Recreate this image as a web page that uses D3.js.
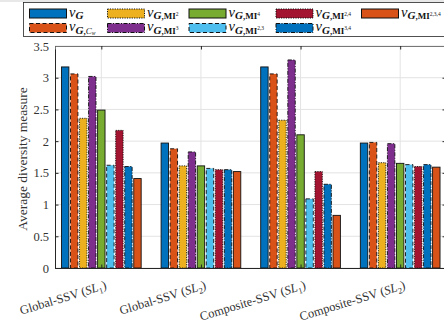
<!DOCTYPE html>
<html>
<head>
<meta charset="utf-8">
<script src="https://cdn.jsdelivr.net/npm/d3@7"></script>
<style>
  body { margin: 0; background: #fff; }
  svg text { font-family: "Liberation Serif", "DejaVu Serif", serif; }
</style>
</head>
<body>
<div id="chart"></div>
<script>
var margin = {top: 46, left: 55},
    width = 446 - 55,
    height = 268 - 46;

// data
var groups = ["Global-SSV", "Global-SSV", "Composite-SSV", "Composite-SSV"];
var groupSub = ["1", "2", "1", "2"];
var series = ["G", "Cw", "MI2", "MI3", "MI4", "MI23", "MI24", "MI34", "MI234"];
var seriesColors = ["#0072BD", "#D95319", "#EDB120", "#7E2F8E", "#77AC30", "#4DBEEE", "#A2142F", "#0072BD", "#D95319"];
var seriesDash = [null, "4,2.5", "1.2,1.2", "4,1.5,1,1.5", null, "4,2.5", "1.2,1.2", "4,1.5,1,1.5", null];
var values = [
  [3.17, 3.06, 2.36, 3.02, 2.49, 1.62, 2.17, 1.60, 1.41],
  [1.97, 1.88, 1.61, 1.83, 1.61, 1.57, 1.55, 1.55, 1.52],
  [3.17, 3.06, 2.33, 3.28, 2.10, 1.09, 1.52, 1.32, 0.83],
  [1.97, 1.98, 1.66, 1.96, 1.65, 1.63, 1.60, 1.63, 1.59]
];
var yTicks = [0, 0.5, 1, 1.5, 2, 2.5, 3, 3.5];
var yTickLabels = ["0", "0.5", "1", "1.5", "2", "2.5", "3", "3.5"];
// legend: [subscript main, subscript tail, superscript], laid out in two rows
var legendRows = [
  [["G", "", ""], ["G", ",MI", "2"], ["G", ",MI", "4"], ["G", ",MI", "2,4"], ["G", ",MI", "2,3,4"]],
  [["G", ",C", "w"], ["G", ",MI", "3"], ["G", ",MI", "2,3"], ["G", ",MI", "3,4"]]
];
var legendSeries = [[0, 2, 4, 6, 8], [1, 3, 5, 7]];

var svg = d3.select("#chart").append("svg")
    .attr("width", 444)
    .attr("height", 327);

svg.append("rect").attr("x", 0).attr("y", 0).attr("width", 444).attr("height", 2).attr("fill", "#e8e8e8");

var g = svg.append("g")
    .attr("transform", "translate(" + margin.left + "," + margin.top + ")");

var x = d3.scaleLinear().domain([0.535, 4.46]).range([0, width]);
var y = d3.scaleLinear().domain([0, 3.5]).range([height, 0]);
var step = x(2) - x(1);
var x1 = d3.scaleBand().domain(series).range([-0.4 * step, 0.4 * step]).paddingInner(0.18);

// grid
g.append("g").selectAll("line").data(yTicks).enter().append("line")
  .attr("x1", 0).attr("x2", width)
  .attr("y1", function(d) { return y(d); }).attr("y2", function(d) { return y(d); })
  .attr("stroke", "#e3e3e3").attr("stroke-width", 1);
g.append("g").selectAll("line").data([1, 2, 3, 4]).enter().append("line")
  .attr("x1", function(d) { return x(d); }).attr("x2", function(d) { return x(d); })
  .attr("y1", 0).attr("y2", height)
  .attr("stroke", "#e3e3e3").attr("stroke-width", 1);

// bars
var grp = g.selectAll(".grp").data(values).enter().append("g")
  .attr("transform", function(d, i) { return "translate(" + x(i + 1) + ",0)"; });
grp.selectAll("rect").data(function(d) { return d; }).enter().append("rect")
  .attr("x", function(d, j) { return x1(series[j]); })
  .attr("width", x1.bandwidth())
  .attr("y", function(d) { return y(d); })
  .attr("height", function(d) { return y(0) - y(d); })
  .attr("fill", function(d, j) { return seriesColors[j]; })
  .attr("stroke", "#111")
  .attr("stroke-width", 0.9)
  .attr("stroke-dasharray", function(d, j) { return seriesDash[j]; });

// axes (ticks inward)
var yAxis = g.append("g")
  .call(d3.axisLeft(y).tickValues(yTicks).tickSize(-3.5).tickPadding(6)
    .tickFormat(function(d, i) { return yTickLabels[i]; }));
var yAxisR = g.append("g").attr("transform", "translate(" + width + ",0)")
  .call(d3.axisRight(y).tickValues(yTicks).tickSize(-3.5).tickFormat(""));
var xAxis = g.append("g").attr("transform", "translate(0," + height + ")")
  .call(d3.axisBottom(x).tickValues([1, 2, 3, 4]).tickSize(-3.5).tickFormat(""));
var xAxisT = g.append("g")
  .call(d3.axisTop(x).tickValues([1, 2, 3, 4]).tickSize(-3.5).tickFormat(""));
[yAxis, yAxisR, xAxis, xAxisT].forEach(function(a) {
  a.attr("font-family", null);
  a.select(".domain").attr("stroke", "#262626");
  a.selectAll(".tick line").attr("stroke", "#262626");
});
xAxisT.select(".domain").attr("stroke", "#777");
yAxis.selectAll("text").attr("font-size", 12.5).attr("fill", "#333");

// x tick labels, rotated
var xl = g.append("g").selectAll("text").data(groups).enter().append("text")
  .attr("transform", function(d, i) { return "translate(" + (x(i + 1) + 3) + "," + (height + 11) + ") rotate(-17)"; })
  .attr("text-anchor", "end")
  .attr("dy", "0.8em")
  .attr("font-size", 12.5)
  .attr("fill", "#333");
xl.append("tspan").text(function(d) { return d + " ("; });
xl.append("tspan").attr("font-style", "italic").text("SL");
xl.append("tspan").attr("font-size", 8.5).attr("dy", 3).text(function(d, i) { return groupSub[i]; });
xl.append("tspan").attr("dy", -3).text(")");

// y label
svg.append("text")
  .attr("transform", "translate(27," + (margin.top + height / 2 + 2) + ") rotate(-90)")
  .attr("text-anchor", "middle")
  .attr("font-size", 13.5)
  .attr("fill", "#333")
  .text("Average diversity measure");

// legend
var leg = svg.append("g");
leg.append("rect").attr("x", 23.5).attr("y", 2.5).attr("width", 440).attr("height", 34)
  .attr("fill", "#fff").attr("stroke", "#262626").attr("stroke-width", 0.8);
var colX = [29, 107, 188.5, 275.5, 361];
var rowY = [8.5, 23];
legendRows.forEach(function(row, r) {
  row.forEach(function(item, c) {
    var s = legendSeries[r][c];
    var it = leg.append("g").attr("transform", "translate(" + colX[c] + "," + rowY[r] + ")");
    it.append("rect").attr("x", 0.5).attr("y", 0.5).attr("width", 37).attr("height", 9)
      .attr("fill", seriesColors[s]).attr("stroke", "#111").attr("stroke-width", 1)
      .attr("stroke-dasharray", seriesDash[s]);
    var t = it.append("text").attr("x", 40).attr("y", 8).attr("fill", "#111");
    t.append("tspan").attr("font-style", "italic").attr("font-size", 14.5).text("\u03bd");
    t.append("tspan").attr("font-style", "italic").attr("font-weight", "bold")
      .attr("font-size", 11).attr("dy", 2.5).text(item[0]);
    if (item[1] === ",C") {
      t.append("tspan").attr("font-weight", "bold").attr("font-size", 9).text(",");
      t.append("tspan").attr("font-style", "italic").attr("font-size", 9).text("C");
      t.append("tspan").attr("font-style", "italic").attr("font-size", 5.5).attr("dy", 1.5).text(item[2]);
    } else if (item[1]) {
      t.append("tspan").attr("font-weight", "bold").attr("font-size", 9).text(item[1]);
      t.append("tspan").attr("font-size", 5.5).attr("dy", -3.5).text(item[2]);
    }
  });
});
</script>
</body>
</html>
